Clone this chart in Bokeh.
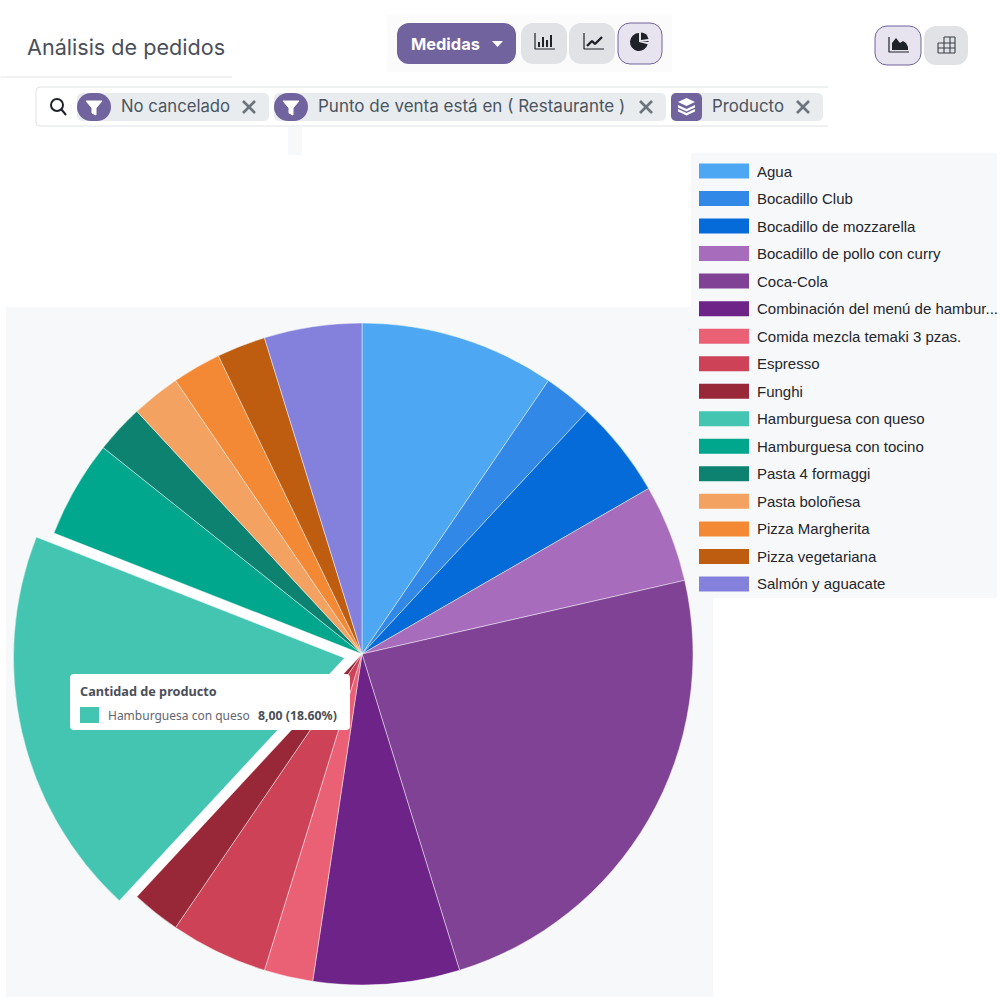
import numpy as np
from bokeh.core.properties import value
from bokeh.embed import file_html
from bokeh.models import ColumnDataSource, Range1d
from bokeh.plotting import figure
from bokeh.resources import INLINE

products = ["Agua", "Bocadillo Club", "Bocadillo de mozzarella", "Bocadillo de pollo con curry",
            "Coca-Cola", "Combinación del menú de hambur...", "Comida mezcla temaki 3 pzas.",
            "Espresso", "Funghi", "Hamburguesa con queso", "Hamburguesa con tocino",
            "Pasta 4 formaggi", "Pasta boloñesa", "Pizza Margherita", "Pizza vegetariana",
            "Salmón y aguacate"]
quantities = [4, 1, 2, 2, 10, 3, 1, 2, 1, 8, 2, 1, 1, 1, 1, 2]
colors = ["#4EA7F2", "#3188E6", "#056BD9", "#A76DBC", "#7F4295", "#6D2387", "#EA6175", "#CE4257",
          "#982738", "#43C5B1", "#00A78D", "#0E8270", "#F4A261", "#F48935", "#BE5D10", "#8481DD"]
highlighted = "Hamburguesa con queso"
filters = ["No cancelado", "Punto de venta está en ( Restaurante )", "Producto"]
tooltip_title = "Cantidad de producto"
tooltip_value = "8,00 (18.60%)"

PURPLE = "#71639E"
CHIP = "#E9ECEF"
BTN = "#E0E2E6"
ACTIVE = "#E7E4EF"
PANEL = "#F7F8FA"
DARK = "#1F2329"
TEXT = "#4A5560"
UI_FONT = "Inter"

# the y range is flipped so that everything reads like page pixels
p = figure(width=1000, height=1000, output_backend="svg", toolbar_location=None, tools="",
           x_range=Range1d(0.5, 1000.5), y_range=Range1d(1000.5, 0.5), min_border=0,
           outline_line_color=None, background_fill_color="white")
p.axis.visible = False
p.grid.visible = False


def box(left, right, top, bottom, fill, line=None, radius=0):
    p.quad(left=left, right=right, top=top, bottom=bottom, fill_color=fill,
           line_color=line, border_radius=radius)


def label(x, y, txt, size, color=TEXT, font=UI_FONT, style="normal", align="left"):
    p.text(x=[x], y=[y], text=[txt], text_font=value(font), text_font_size=f"{size}px", text_color=color,
           text_font_style=style, text_align=align, text_baseline="middle")


def cross(x, y):
    p.multi_line(xs=[[x - 6, x + 6], [x - 6, x + 6]], ys=[[y - 6, y + 6], [y + 6, y - 6]],
                 line_color="#6C757D", line_width=2.6)


def funnel(x, y):
    p.patch(x=[x - 8, x + 8, x + 2, x + 2, x - 2, x - 2], y=[y - 6, y - 6, y + 1, y + 8, y + 6, y + 1],
            fill_color="white", line_color="white", line_width=1)


# panels behind the chart
box(6, 713, 307, 997, PANEL)
box(691, 997, 153, 598, PANEL)
box(387, 672, 15, 72, "#FBFBFC")
box(288, 302, 127, 155, PANEL)

# title
label(27, 47, "Análisis de pedidos", 21.6, color="#4A4F59")
p.line(x=[0, 232], y=[77, 77], line_color="#DEE2E6", line_width=1)

# toolbar buttons
box(397, 516, 23, 64, PURPLE, radius=12)
label(411, 44, "Medidas", 16.4, color="white", style="bold")
p.patch(x=[492, 503, 497.5], y=[41, 41, 47], fill_color="white", line_color=None)
box(521, 567, 23, 64, BTN, radius=12)
box(569, 615, 23, 64, BTN, radius=12)
box(618, 662, 23, 64, ACTIVE, line=PURPLE, radius=12)
box(875, 921, 26, 65, ACTIVE, line=PURPLE, radius=12)
box(924, 968, 26, 65, BTN, radius=12)

# bar icon
p.line(x=[535, 535, 555], y=[33, 49, 49], line_color=DARK, line_width=1.2)
p.vbar(x=[539, 543, 547, 551], top=[42, 37, 40, 35], bottom=47, width=2, fill_color=DARK, line_color=None)
# line icon
p.line(x=[584, 584, 604], y=[33, 49, 49], line_color=DARK, line_width=1.2)
p.line(x=[587, 592, 595, 602], y=[46, 41, 44, 37], line_color=DARK, line_width=2.4)
# pie icon
p.wedge(x=[639], y=[42], radius=9, start_angle=np.pi / 2, end_angle=2 * np.pi - 0.25,
        fill_color=DARK, line_color=None)
p.wedge(x=[641], y=[40], radius=7.5, start_angle=0.15, end_angle=np.pi / 2,
        fill_color=DARK, line_color=None)
p.wedge(x=[641], y=[41], radius=7.5, start_angle=-0.15, end_angle=0,
        fill_color=DARK, line_color=None)
# area icon
p.line(x=[889, 889, 909], y=[37, 52, 52], line_color=DARK, line_width=1.2)
p.patch(x=[892, 892, 896, 900, 903, 906, 908, 908], y=[50, 43, 38, 43, 41, 43, 47, 50],
        fill_color=DARK, line_color=None)
# table icon
p.multi_line(xs=[[938, 955], [938, 955], [938, 955], [938, 938], [944, 944], [950, 950], [955, 955], [944, 955]],
             ys=[[43, 43], [48, 48], [53, 53], [43, 53], [37, 53], [37, 53], [37, 53], [37, 37]],
             line_color="#3A3F47", line_width=1.1)

# search bar with its filter chips
box(36, 840, 87, 126, "white", line="#DEE2E6", radius=4)
box(828, 842, 85, 128, "white")
p.circle(x=[57], y=[105], radius=6, fill_color=None, line_color=DARK, line_width=2)
p.line(x=[61.5, 66], y=[109.5, 115], line_color=DARK, line_width=2)

box(77, 269, 93, 121, CHIP, radius=5)
box(77, 111, 93, 121, PURPLE, radius=14)
funnel(94, 107)
label(121, 106, filters[0], 16.7)
cross(249, 107)

box(274, 666, 93, 121, CHIP, radius=5)
box(274, 308, 93, 121, PURPLE, radius=14)
funnel(291, 107)
label(318, 106, filters[1], 17)
cross(646, 107)

box(671, 823, 93, 121, CHIP, radius=5)
box(671, 702, 93, 121, PURPLE, radius=5)
p.patches(xs=[[686.5, 695, 686.5, 678], [678, 686.5, 695, 695, 686.5, 678], [678, 686.5, 695, 695, 686.5, 678]],
          ys=[[98, 102, 106, 102], [105, 109, 105, 107.5, 111.5, 107.5], [109, 113, 109, 111.5, 115.5, 111.5]],
          fill_color="white", line_color=None)
label(712, 106, filters[2], 16.8)
cross(803, 107)

# pie
pie_x, pie_y, pie_r = 362, 654, 331
explode = 18
cum = np.cumsum([0] + quantities) / sum(quantities) * 2 * np.pi
start = np.pi / 2 - cum[:-1]
end = np.pi / 2 - cum[1:]
mid = (start + end) / 2
offset = np.array([explode if name == highlighted else 0 for name in products])
# +cos for x, -sin for y because the y range is flipped
source = ColumnDataSource(dict(
    product=products, quantity=quantities, color=colors, start=start, end=end,
    cx=pie_x + offset * np.cos(mid), cy=pie_y - offset * np.sin(mid),
))
# white gap left behind by the pulled out slice
hi = products.index(highlighted)
p.wedge(x=[pie_x], y=[pie_y], radius=pie_r, start_angle=start[hi], end_angle=end[hi], direction="clock",
        fill_color="white", line_color=None)
p.wedge(x="cx", y="cy", radius=pie_r, start_angle="start", end_angle="end", direction="clock",
        fill_color="color", line_color="white", line_alpha=0.45, line_width=1, source=source)

# legend, one row per product
row_pitch = 27.53
rows = 171 + np.arange(len(products)) * row_pitch
p.rect(x=724, y=rows, width=50, height=15, fill_color=colors, line_color=None)
p.text(x=757, y=rows, text=products, text_font=value("Liberation Sans"), text_font_size="15px",
       text_color="#23262B", text_baseline="middle")

# tooltip
box(70, 350, 674, 730, "white", radius=4)
label(80, 691, tooltip_title, 12.7, color="#4A4F59", font="Noto Sans", style="bold")
box(80, 99, 707, 723, colors[hi])
label(108, 715.5, highlighted, 12, color="#5F6670", font="Noto Sans")
label(258, 715.5, tooltip_value, 12.3, color="#4A4F59", font="Noto Sans", style="bold")

open("out.html", "w").write(file_html(p, INLINE))
